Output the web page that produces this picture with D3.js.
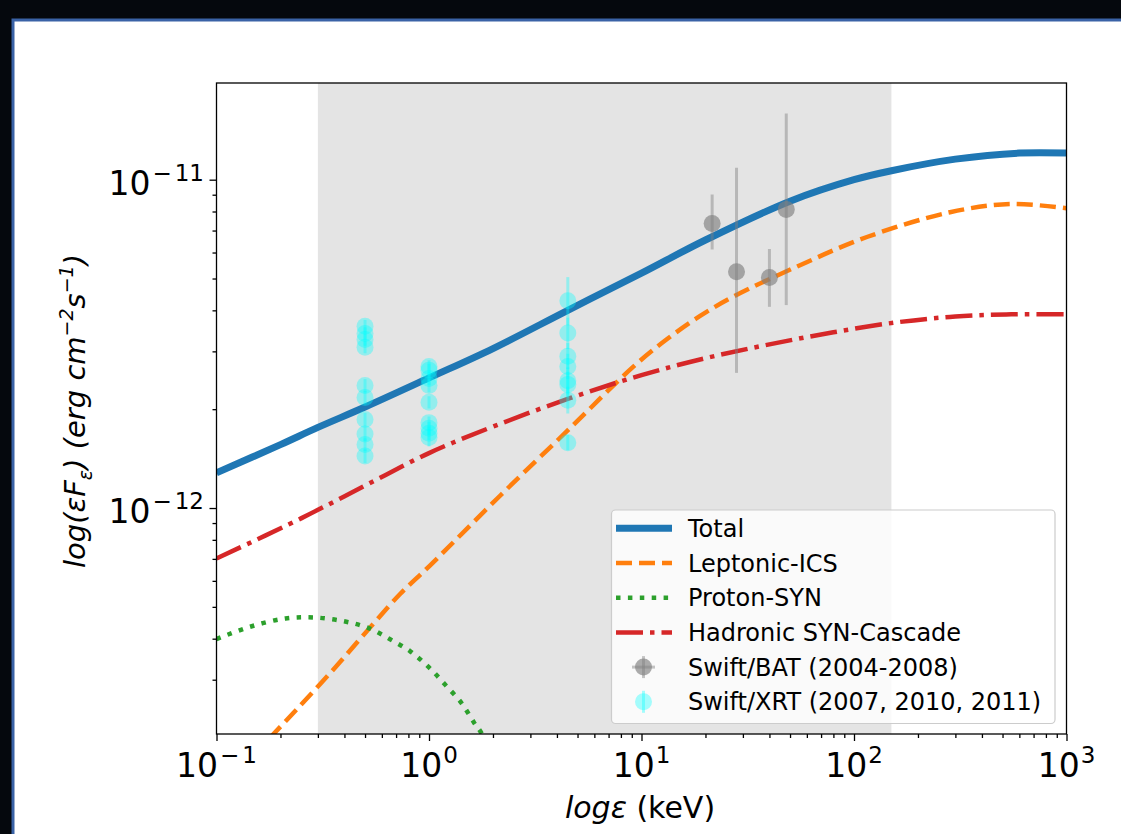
<!DOCTYPE html>
<html>
<head>
<meta charset="utf-8">
<title>SED</title>
<script src="https://d3js.org/d3.v7.min.js"></script>
<style>
    body { margin: 0; background: #05080d; }
    svg { display: block; font-family: "DejaVu Sans", sans-serif; }
</style>
</head>
<body>
<svg id="chart"></svg>
<script>
// model curves: energy (keV) and eF_e (erg cm^-2 s^-1)
const totalE = [0.1, 0.2, 0.3, 0.5, 1, 2, 4.5, 10, 20, 50, 100, 150, 300, 600, 1000];
const totalF = [1.28e-12, 1.56e-12, 1.76e-12, 2.03e-12, 2.49e-12, 3.06e-12, 4.0e-12, 5.19e-12,
                6.55e-12, 8.6e-12, 1.0e-11, 1.065e-11, 1.155e-11, 1.205e-11, 1.205e-11];

const lepE = [0.15, 0.179, 0.239, 0.362, 0.529, 0.733, 1.01, 2.16, 4.61, 9.13, 13.2, 18.8, 27.0, 55.7, 115, 283, 542, 1000];
const lepF = [1.77e-13, 2.0e-13, 2.44e-13, 3.27e-13, 4.33e-13, 5.48e-13, 6.68e-13, 1.09e-12, 1.75e-12,
              2.69e-12, 3.27e-12, 3.84e-12, 4.40e-12, 5.49e-12, 6.69e-12, 7.96e-12, 8.43e-12, 8.19e-12];

const protE = [0.1, 0.144, 0.211, 0.291, 0.404, 0.52, 0.653, 0.816, 1.0, 1.19, 1.42, 1.63, 1.76, 2.0, 2.3];
const protF = [3.99e-13, 4.35e-13, 4.61e-13, 4.64e-13, 4.51e-13, 4.31e-13, 3.99e-13, 3.66e-13,
               3.27e-13, 2.90e-13, 2.55e-13, 2.22e-13, 2.07e-13, 1.75e-13, 1.4e-13];

const hadE = [0.1, 0.25, 0.5, 1, 2, 4.6, 10, 20, 40, 80, 160, 300, 550, 1000];
const hadF = [7.02e-13, 9.3e-13, 1.17e-12, 1.47e-12, 1.77e-12, 2.16e-12, 2.54e-12, 2.86e-12,
              3.15e-12, 3.43e-12, 3.68e-12, 3.83e-12, 3.89e-12, 3.89e-12];

// Swift/BAT points
const batE  = [21.5, 28, 40, 48];
const batF  = [7.36e-12, 5.24e-12, 5.04e-12, 8.12e-12];
const batLo = [6.13e-12, 2.58e-12, 4.10e-12, 4.15e-12];
const batHi = [9.02e-12, 1.087e-11, 6.15e-12, 1.592e-11];

// Swift/XRT points
const xrtE = [0.5, 0.5, 0.5, 0.5, 0.5, 0.5, 0.5, 0.5, 0.5, 0.5,
              1, 1, 1, 1, 1, 1, 1, 1, 1,
              4.5, 4.5, 4.5, 4.5, 4.5, 4.5, 4.5, 4.5];
const xrtF = [3.58e-12, 3.40e-12, 3.26e-12, 3.09e-12, 2.36e-12, 2.17e-12, 1.86e-12, 1.68e-12, 1.56e-12, 1.44e-12,
              2.70e-12, 2.63e-12, 2.48e-12, 2.36e-12, 2.10e-12, 1.82e-12, 1.75e-12, 1.69e-12, 1.64e-12,
              4.28e-12, 3.41e-12, 2.90e-12, 2.70e-12, 2.44e-12, 2.38e-12, 2.13e-12, 1.58e-12];
const xrtLo = [3.42e-12, 3.25e-12, 3.12e-12, 2.96e-12, 2.25e-12, 2.07e-12, 1.77e-12, 1.60e-12, 1.49e-12, 1.37e-12,
               2.58e-12, 2.51e-12, 2.37e-12, 2.25e-12, 2.01e-12, 1.74e-12, 1.67e-12, 1.61e-12, 1.54e-12,
               3.60e-12, 3.05e-12, 2.65e-12, 2.47e-12, 2.22e-12, 2.17e-12, 1.94e-12, 1.50e-12];
const xrtHi = [3.74e-12, 3.55e-12, 3.40e-12, 3.22e-12, 2.47e-12, 2.27e-12, 1.95e-12, 1.76e-12, 1.63e-12, 1.51e-12,
               2.82e-12, 2.75e-12, 2.59e-12, 2.47e-12, 2.19e-12, 1.90e-12, 1.83e-12, 1.77e-12, 1.74e-12,
               5.05e-12, 3.80e-12, 3.18e-12, 2.95e-12, 2.68e-12, 2.60e-12, 2.34e-12, 1.67e-12];

const band = [0.3, 150];
const xTicks = [0.1, 1, 10, 100, 1000];
const xTickExp = ["\u22121", "0", "1", "2", "3"];
const yTicks = [1e-12, 1e-11];
const yTickExp = ["\u221212", "\u221211"];

const legendLabels = ["Total", "Leptonic-ICS", "Proton-SYN", "Hadronic SYN-Cascade",
                      "Swift/BAT (2004-2008)", "Swift/XRT (2007, 2010, 2011)"];

const W = 1121, H = 834;
const L = 216.5, R = 1066.5, T = 83, B = 734;

const svg = d3.select("#chart").attr("width", W).attr("height", H);

// background frame
svg.append("rect").attr("width", W).attr("height", H).attr("fill", "#05080d");
svg.append("rect").attr("x", 13).attr("y", 20).attr("width", W).attr("height", H)
    .attr("fill", "#ffffff").attr("stroke", "#3a62a6").attr("stroke-width", 3);

const x = d3.scaleLog().domain([0.1, 1000]).range([L, R]);
const y = d3.scaleLog().domain([2.05e-13, 1.97e-11]).range([B, T]);

svg.append("clipPath").attr("id", "clip")
    .append("rect").attr("x", L).attr("y", T).attr("width", R - L).attr("height", B - T);

const plot = svg.append("g").attr("clip-path", "url(#clip)");

// shaded energy band
plot.append("rect")
    .attr("x", x(band[0])).attr("y", T)
    .attr("width", x(band[1]) - x(band[0])).attr("height", B - T)
    .attr("fill", "#e4e4e4");

const line = d3.line().x(d => x(d[0])).y(d => y(d[1])).curve(d3.curveCatmullRom.alpha(0.5));

const styles = [
    { color: "#1f77b4", width: 7, dash: null },
    { color: "#ff7f0e", width: 4.5, dash: "16,7" },
    { color: "#2ca02c", width: 4.5, dash: "4.5,7.4" },
    { color: "#d62728", width: 4.5, dash: "27,7,4.5,7" }
];
const curves = [d3.zip(totalE, totalF), d3.zip(lepE, lepF), d3.zip(protE, protF), d3.zip(hadE, hadF)];

curves.forEach((c, i) => {
    plot.append("path")
        .attr("d", line(c))
        .attr("fill", "none")
        .attr("stroke", styles[i].color)
        .attr("stroke-width", styles[i].width)
        .attr("stroke-dasharray", styles[i].dash);
});

// XRT points
xrtE.forEach((e, i) => {
    plot.append("line")
        .attr("x1", x(e)).attr("x2", x(e))
        .attr("y1", y(xrtLo[i])).attr("y2", y(xrtHi[i]))
        .attr("stroke", "cyan").attr("stroke-opacity", 0.35).attr("stroke-width", 3);
    plot.append("circle")
        .attr("cx", x(e)).attr("cy", y(xrtF[i])).attr("r", 8.5)
        .attr("fill", "cyan").attr("fill-opacity", 0.35);
});

// BAT points
batE.forEach((e, i) => {
    plot.append("line")
        .attr("x1", x(e)).attr("x2", x(e))
        .attr("y1", y(batLo[i])).attr("y2", y(batHi[i]))
        .attr("stroke", "grey").attr("stroke-opacity", 0.45).attr("stroke-width", 3);
    plot.append("circle")
        .attr("cx", x(e)).attr("cy", y(batF[i])).attr("r", 8.5)
        .attr("fill", "grey").attr("fill-opacity", 0.65);
});

// axes ticks
const xMinor = [], yMinor = [];
for (let d = -1; d < 3; d++) for (let k = 2; k < 10; k++) xMinor.push(k * Math.pow(10, d));
for (let d = -13; d < -10; d++) for (let k = 2; k < 10; k++) {
    const v = k * Math.pow(10, d);
    if (v >= 2.05e-13 && v <= 1.97e-11) yMinor.push(v);
}

svg.append("g").attr("transform", `translate(0,${B})`)
    .call(d3.axisBottom(x).tickValues(xMinor).tickSize(4).tickFormat(""))
    .call(g => g.select(".domain").remove());
svg.append("g").attr("transform", `translate(0,${B})`)
    .call(d3.axisBottom(x).tickValues(xTicks).tickSize(7).tickFormat(""))
    .call(g => g.select(".domain").remove());
svg.append("g").attr("transform", `translate(${L},0)`)
    .call(d3.axisLeft(y).tickValues(yMinor).tickSize(4).tickFormat(""))
    .call(g => g.select(".domain").remove());
svg.append("g").attr("transform", `translate(${L},0)`)
    .call(d3.axisLeft(y).tickValues(yTicks).tickSize(7).tickFormat(""))
    .call(g => g.select(".domain").remove());
svg.selectAll(".tick line").attr("stroke", "#000").attr("stroke-width", 1.3);

// frame
svg.append("rect").attr("x", L).attr("y", T).attr("width", R - L).attr("height", B - T)
    .attr("fill", "none").attr("stroke", "#000").attr("stroke-width", 1.3);

// tick labels (10 with superscript exponent)
function powLabel(sel, exp) {
    sel.append("tspan").text("10");
    const neg = exp.startsWith("\u2212");
    if (neg) {
        sel.append("tspan").attr("dx", 2).attr("dy", -14).attr("font-size", 23).text("\u2212");
        sel.append("tspan").attr("dx", 3).attr("font-size", 23).text(exp.slice(1));
    } else {
        sel.append("tspan").attr("dx", 1).attr("dy", -14).attr("font-size", 23).text(exp);
    }
}
xTicks.forEach((t, i) => {
    const tx = svg.append("text").attr("x", x(t)).attr("y", 777)
        .attr("text-anchor", "middle").attr("font-size", 33).attr("fill", "#000");
    powLabel(tx, xTickExp[i]);
});
yTicks.forEach((t, i) => {
    const ty = svg.append("text").attr("x", 204).attr("y", y(t) + 15)
        .attr("text-anchor", "end").attr("font-size", 33).attr("fill", "#000");
    powLabel(ty, yTickExp[i]);
});

// axis labels
const xl = svg.append("text").attr("x", 640).attr("y", 818)
    .attr("text-anchor", "middle").attr("font-size", 30).attr("fill", "#000");
xl.append("tspan").attr("font-style", "italic").text("log\u03b5");
xl.append("tspan").text(" (keV)");

const yl = svg.append("text").attr("transform", "translate(85,411) rotate(-90)")
    .attr("text-anchor", "middle").attr("font-size", 29).attr("font-style", "italic").attr("fill", "#000");
yl.append("tspan").text("log(\u03b5F");
yl.append("tspan").attr("dy", 7).attr("font-size", 19).text("\u03b5");
yl.append("tspan").attr("dy", -7).text(") (erg cm");
yl.append("tspan").attr("dy", -12).attr("font-size", 19).text("\u22122");
yl.append("tspan").attr("dy", 12).text("s");
yl.append("tspan").attr("dy", -12).attr("font-size", 19).text("\u22121");
yl.append("tspan").attr("dy", 12).text(")");

// legend
const lg = svg.append("g");
lg.append("rect").attr("x", 611.5).attr("y", 510).attr("width", 443.5).attr("height", 213.5)
    .attr("rx", 4).attr("fill", "#fff").attr("fill-opacity", 0.8)
    .attr("stroke", "#cccccc").attr("stroke-width", 1.2);

const rowY = i => 528.3 + i * 34.7;
legendLabels.forEach((lab, i) => {
    const yy = rowY(i);
    if (i < 4) {
        lg.append("line").attr("x1", 616).attr("x2", 672).attr("y1", yy).attr("y2", yy)
            .attr("stroke", styles[i].color).attr("stroke-width", styles[i].width)
            .attr("stroke-dasharray", styles[i].dash);
    } else if (i === 4) {
        lg.append("line").attr("x1", 632).attr("x2", 655).attr("y1", yy).attr("y2", yy)
            .attr("stroke", "grey").attr("stroke-opacity", 0.45).attr("stroke-width", 3);
        lg.append("line").attr("x1", 643.5).attr("x2", 643.5).attr("y1", yy - 11).attr("y2", yy + 11)
            .attr("stroke", "grey").attr("stroke-opacity", 0.45).attr("stroke-width", 3);
        lg.append("circle").attr("cx", 643.5).attr("cy", yy).attr("r", 8.5)
            .attr("fill", "grey").attr("fill-opacity", 0.65);
    } else {
        lg.append("line").attr("x1", 643.5).attr("x2", 643.5).attr("y1", yy - 11).attr("y2", yy + 11)
            .attr("stroke", "cyan").attr("stroke-opacity", 0.35).attr("stroke-width", 3);
        lg.append("circle").attr("cx", 643.5).attr("cy", yy).attr("r", 8.5)
            .attr("fill", "cyan").attr("fill-opacity", 0.35);
    }
    lg.append("text").attr("x", 688).attr("y", yy + 8.5)
        .attr("font-size", 24).attr("fill", "#000").text(lab);
});
</script>
</body>
</html>
